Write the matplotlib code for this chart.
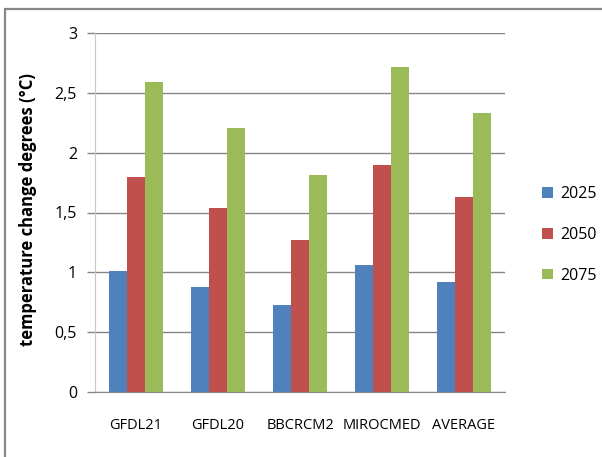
import matplotlib.pyplot as plt
import numpy as np
from matplotlib.patches import Rectangle

# temperature change per model and horizon
models = ["GFDL21", "GFDL20", "BBCRCM2", "MIROCMED", "AVERAGE"]
years = ["2025", "2050", "2075"]
t2025 = [1.01, 0.88, 0.73, 1.06, 0.92]
t2050 = [1.80, 1.54, 1.27, 1.90, 1.63]
t2075 = [2.59, 2.21, 1.81, 2.72, 2.33]
yticks = [0, 0.5, 1, 1.5, 2, 2.5, 3]
ytick_labels = ["0", "0,5", "1", "1,5", "2", "2,5", "3"]

colors = ["#4F81BD", "#C0504D", "#9BBB59"]
plt.rcParams['font.family'] = ['Open Sans', 'DejaVu Sans']

fig = plt.figure(figsize=(6.02, 4.57), dpi=100)
W, H = 602, 457
# outer chart border
fig.patches.append(Rectangle((5 / W, -0.05), 1.2, (H - 9) / H + 0.05,
                             transform=fig.transFigure, fill=False,
                             edgecolor="#888888", linewidth=1.6))

ax = fig.add_axes([95 / W, 1 - 392 / H, 410 / W, 359 / H])

x = np.arange(len(models))
bw = 0.223
series = [t2025, t2050, t2075]
for i, (vals, c, lab) in enumerate(zip(series, colors, years)):
    ax.bar(x + (i - 1) * bw, vals, bw, color=c, label=lab, zorder=3)

ax.set_xlim(-0.5, len(models) - 0.5)
ax.set_ylim(0, 3)
ax.set_yticks(yticks)
ax.set_yticklabels(ytick_labels, fontsize=11.5)
ax.set_xticks(x)
ax.set_xticklabels(models, fontsize=10.5)
ax.tick_params(axis='x', length=0, pad=19)
ax.tick_params(axis='y', length=6, width=1, color="#868686", pad=7)
ax.grid(axis='y', color="#868686", linewidth=1, zorder=0)
for s in ["top", "right"]:
    ax.spines[s].set_visible(False)
ax.spines["left"].set_color("#C8C8C8")
ax.spines["bottom"].set_color("#868686")
ax.spines["bottom"].set_zorder(4)

ax.set_ylabel("temperature change degrees (°C)", fontsize=12,
              fontweight="bold")
ax.yaxis.set_label_coords((37 - 95) / 410, (392 - 210) / 359)

leg = ax.legend(loc="center left", bbox_to_anchor=((528 - 95) / 410, (392 - 235) / 359),
                frameon=False, fontsize=11.5, handlelength=0.65, handleheight=0.65,
                labelspacing=1.55, handletextpad=0.5)

fig.savefig("out.png", dpi=100)
